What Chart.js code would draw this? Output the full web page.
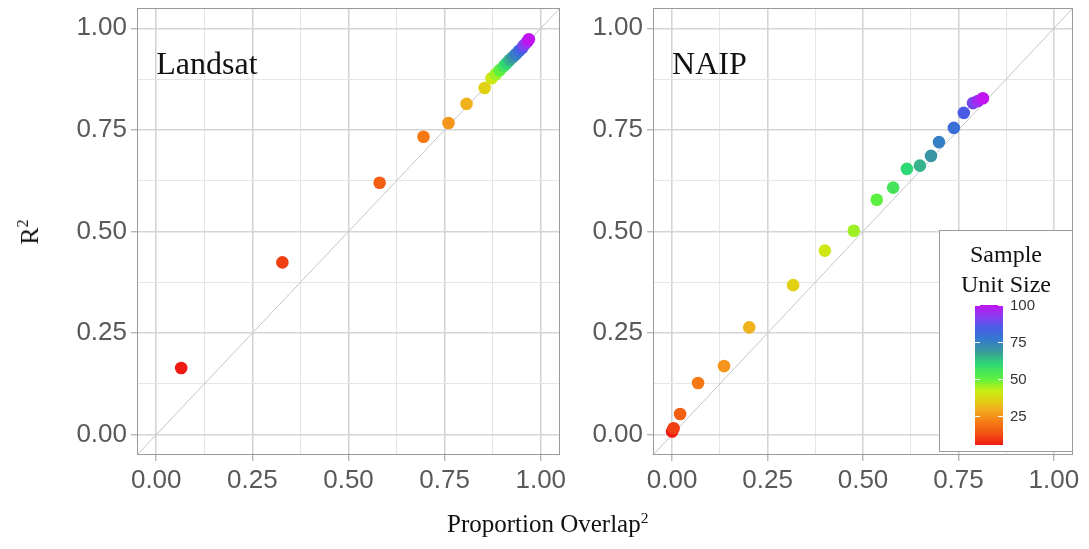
<!DOCTYPE html>
<html>
<head>
<meta charset="utf-8">
<script src="https://cdn.jsdelivr.net/npm/chart.js@4.4.1/dist/chart.umd.min.js"></script>
<style>
  body { margin: 0; background: #fff; width: 1089px; height: 549px; position: relative; overflow: hidden; }
  canvas { position: absolute; top: 0; }
  #landsat { left: 0; }
  #naip { left: 570px; }
  .ttl { position: absolute; font-family: 'Liberation Serif', serif; color: #111; white-space: nowrap; line-height: 1; }
  .ttl sup { font-size: 62%; vertical-align: 0; position: relative; top: -0.6em; }
</style>
</head>
<body>
<canvas id="landsat" width="570" height="549"></canvas>
<canvas id="naip" width="519" height="549"></canvas>
<div class="ttl" style="left:447px; top:511px; font-size:25px;">Proportion Overlap<sup>2</sup></div>
<div class="ttl" style="left:30px; top:232px; font-size:26px; transform: translate(-50%, -50%) rotate(-90deg);">R<sup>2</sup></div>

<script>
// sample unit sizes (colour of every point)
const sizes = [5, 10, 15, 20, 25, 30, 35, 40, 45, 50, 55, 60, 65, 70, 75, 80, 85, 90, 95, 100];

// Landsat panel
const landsatOverlap = [0.065, 0.328, 0.581, 0.695, 0.760, 0.807, 0.854, 0.872, 0.883, 0.893,
                        0.904, 0.911, 0.919, 0.927, 0.935, 0.943, 0.951, 0.956, 0.964, 0.969];
const landsatR2 = [0.164, 0.424, 0.620, 0.733, 0.767, 0.814, 0.853, 0.877, 0.887, 0.897,
                   0.907, 0.914, 0.922, 0.929, 0.936, 0.944, 0.951, 0.958, 0.966, 0.973];

// NAIP panel
const naipOverlap = [0.000, 0.004, 0.021, 0.068, 0.136, 0.202, 0.317, 0.400, 0.476, 0.536,
                     0.579, 0.615, 0.649, 0.678, 0.699, 0.738, 0.764, 0.788, 0.801, 0.814];
const naipR2 = [0.008, 0.016, 0.051, 0.127, 0.169, 0.264, 0.368, 0.453, 0.502, 0.578,
                0.608, 0.654, 0.662, 0.686, 0.720, 0.755, 0.792, 0.816, 0.821, 0.828];

// axes
const axisMin = -0.05, axisMax = 1.05;
const majorTicks = [0, 0.25, 0.5, 0.75, 1.0];
const minorTicks = [0.125, 0.375, 0.625, 0.875];
const oneToOne = [axisMin, axisMax];
const legendTicks = [25, 50, 75, 100];

// colour ramp for sample unit size
const rampStops = [5, 12, 20, 28, 35, 42, 50, 60, 68, 77, 85, 92, 100];
const rampColors = ['#f01a14', '#f04e12', '#f57812', '#f5a620', '#e2d012', '#c6f014', '#5cf040',
                    '#2ed874', '#3a9c98', '#3478d0', '#4a5ce6', '#8a3cf0', '#c014f0'];

const sizeMin = Math.min(...sizes), sizeMax = Math.max(...sizes);

function hexRgb(h) {
  return [parseInt(h.slice(1, 3), 16), parseInt(h.slice(3, 5), 16), parseInt(h.slice(5, 7), 16)];
}
function rampColor(v) {
  for (let i = 0; i < rampStops.length - 1; i++) {
    if (v <= rampStops[i + 1]) {
      const t = (v - rampStops[i]) / (rampStops[i + 1] - rampStops[i]);
      const a = hexRgb(rampColors[i]), b = hexRgb(rampColors[i + 1]);
      const c = a.map((x, k) => Math.round(x + (b[k] - x) * t));
      return `rgb(${c[0]},${c[1]},${c[2]})`;
    }
  }
  return rampColors[rampColors.length - 1];
}

const isMajor = v => Math.abs(v * 4 - Math.round(v * 4)) < 1e-6;

function axisOpts(isX, fitSize) {
  return {
    type: 'linear',
    min: axisMin,
    max: axisMax,
    afterBuildTicks: scale => {
      scale.ticks = [...majorTicks, ...minorTicks].sort((a, b) => a - b).map(v => ({ value: v }));
    },
    afterFit: scale => {
      if (isX) { scale.height = fitSize; scale.paddingLeft = 0; scale.paddingRight = 0; }
      else { scale.width = fitSize; scale.paddingTop = 0; scale.paddingBottom = 0; }
    },
    border: { display: false },
    grid: {
      color: c => isMajor(c.tick.value) ? '#d5d5d5' : '#e6e6e6',
      lineWidth: c => isMajor(c.tick.value) ? 1.6 : 1.1,
      tickColor: c => isMajor(c.tick.value) ? '#9a9a9a' : 'rgba(0,0,0,0)',
      tickLength: 6,
      tickWidth: 1
    },
    ticks: {
      autoSkip: false,
      maxRotation: 0,
      padding: isX ? 4 : 4,
      color: '#595959',
      font: { family: "'Liberation Sans', Arial, sans-serif", size: 26 },
      callback: v => isMajor(v) ? v.toFixed(2) : ''
    }
  };
}

// panel border + panel name
const panelPlugin = {
  id: 'panel',
  afterDatasetsDraw(chart, args, opts) {
    const { ctx, chartArea: a, scales } = chart;
    ctx.save();
    ctx.strokeStyle = '#9a9a9a';
    ctx.lineWidth = 1;
    ctx.strokeRect(a.left + 0.5, a.top + 0.5, a.right - a.left - 1, a.bottom - a.top - 1);
    ctx.fillStyle = '#111';
    ctx.font = "32px 'Liberation Serif', serif";
    ctx.textAlign = 'left';
    ctx.textBaseline = 'alphabetic';
    ctx.fillText(opts.name, scales.x.getPixelForValue(0), scales.y.getPixelForValue(0.887));
    ctx.restore();
  }
};

// colour bar legend (NAIP panel only)
const colorBarPlugin = {
  id: 'colorBar',
  afterDraw(chart, args, opts) {
    if (!opts.show) return;
    const { ctx, chartArea: a } = chart;
    const bw = 134, bh = 222;
    const bx = a.right - bw, by = a.bottom - 3 - bh;
    ctx.save();
    ctx.fillStyle = '#fff';
    ctx.fillRect(bx, by, bw, bh);
    ctx.strokeStyle = '#9a9a9a';
    ctx.lineWidth = 1;
    ctx.strokeRect(bx + 0.5, by + 0.5, bw - 1, bh - 1);

    ctx.fillStyle = '#111';
    ctx.font = "24px 'Liberation Serif', serif";
    ctx.textAlign = 'center';
    ctx.textBaseline = 'alphabetic';
    ctx.fillText('Sample', bx + 67, by + 32);
    ctx.fillText('Unit Size', bx + 67, by + 62);

    const barX = bx + 36, barW = 28, barTop = by + 75, barBot = by + 215;
    const yOf = v => barBot - (v - sizeMin) / (sizeMax - sizeMin) * (barBot - barTop);
    const g = ctx.createLinearGradient(0, barBot, 0, barTop);
    rampStops.forEach((s, i) => g.addColorStop((s - sizeMin) / (sizeMax - sizeMin), rampColors[i]));
    ctx.fillStyle = g;
    ctx.fillRect(barX, barTop, barW, barBot - barTop);

    ctx.strokeStyle = '#fff';
    ctx.lineWidth = 1;
    ctx.font = "15px 'Liberation Sans', Arial, sans-serif";
    ctx.textAlign = 'left';
    ctx.textBaseline = 'middle';
    ctx.fillStyle = '#333';
    legendTicks.forEach(v => {
      const y = Math.round(yOf(v)) + 0.5;
      ctx.beginPath();
      ctx.moveTo(barX, y); ctx.lineTo(barX + 5, y);
      ctx.moveTo(barX + barW - 5, y); ctx.lineTo(barX + barW, y);
      ctx.stroke();
      ctx.fillText(String(v), barX + barW + 7, y);
    });
    ctx.restore();
  }
};

function makePanel(id, name, xs, ys, yAxisWidth, rightPad, showBar) {
  new Chart(document.getElementById(id), {
    type: 'scatter',
    data: {
      datasets: [
        {
          data: xs.map((x, i) => ({ x: x, y: ys[i] })),
          backgroundColor: sizes.map(rampColor),
          borderWidth: 0,
          pointRadius: 6.3,
          order: 1
        },
        {
          data: oneToOne.map(v => ({ x: v, y: v })),
          showLine: true,
          borderColor: '#c4c4cc',
          borderWidth: 1,
          pointRadius: 0,
          order: 2
        }
      ]
    },
    options: {
      responsive: false,
      animation: false,
      layout: { padding: { left: 0, right: rightPad, top: 8, bottom: 0 } },
      plugins: {
        legend: { display: false },
        tooltip: { enabled: false },
        panel: { name: name },
        colorBar: { show: showBar }
      },
      scales: {
        x: axisOpts(true, 94),
        y: axisOpts(false, yAxisWidth)
      }
    },
    plugins: [panelPlugin, colorBarPlugin]
  });
}

makePanel('landsat', 'Landsat', landsatOverlap, landsatR2, 137, 10, false);
makePanel('naip', 'NAIP', naipOverlap, naipR2, 83, 16, true);
</script>
</body>
</html>
